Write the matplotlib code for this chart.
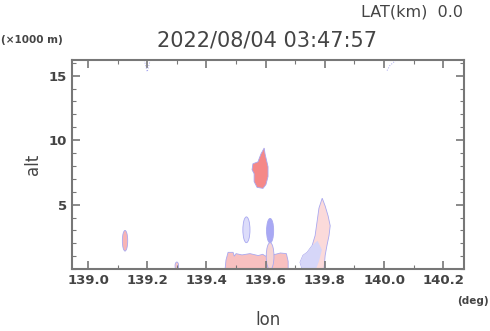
import matplotlib.pyplot as plt
from matplotlib.patches import Ellipse
from matplotlib.ticker import MultipleLocator

# echo patches (lon deg, alt km)
red_top_lon = [139.595, 139.598, 139.608, 139.608, 139.601, 139.591, 139.571,
               139.561, 139.561, 139.554, 139.557, 139.574, 139.584]
red_top_alt = [9.39, 8.93, 7.94, 7.18, 6.56, 6.26, 6.34, 6.79, 7.40, 7.71,
               8.17, 8.32, 8.93]

band_lon = [139.463, 139.466, 139.473, 139.490, 139.494, 139.500, 139.520,
            139.547, 139.575, 139.590, 139.600, 139.618, 139.625, 139.650,
            139.670, 139.676, 139.676]
band_alt = [0.0, 0.7, 1.3, 1.3, 1.0, 1.2, 1.1, 1.2, 1.05, 1.15, 1.0,
            1.3, 1.1, 1.25, 1.2, 0.6, 0.0]

right_lon = [139.797, 139.801, 139.807, 139.814, 139.818, 139.811, 139.801,
             139.791, 139.780, 139.774, 139.767, 139.757, 139.740, 139.726,
             139.716, 139.723]
right_alt = [0.0, 1.07, 1.83, 2.60, 3.36, 4.12, 4.89, 5.50, 4.73, 3.74,
             2.60, 1.83, 1.30, 1.07, 0.53, 0.0]

right_blue_lon = [139.723, 139.716, 139.726, 139.740, 139.757, 139.775,
                  139.790, 139.780, 139.770]
right_blue_alt = [0.0, 0.53, 1.07, 1.30, 1.83, 2.2, 1.5, 0.6, 0.0]

# small blobs: lon, alt, width (deg), height (km), fill colour
blob_lon = [139.535, 139.615, 139.125, 139.300, 139.615]
blob_alt = [3.05, 2.98, 2.20, 0.25, 1.0]
blob_w = [0.024, 0.024, 0.018, 0.012, 0.026]
blob_h = [2.0, 1.9, 1.6, 0.6, 2.1]
blob_col = ['#dcdcfa', '#a8a8f4', '#f8b4b4', '#f8c8c8', '#f6d4d4']

xticks = [139.0, 139.2, 139.4, 139.6, 139.8, 140.0, 140.2]
yticks = [5, 10, 15]

grey = '#444444'
edge = '#a8a8f0'

fig = plt.figure(figsize=(4.9, 3.31), dpi=100)
ax = fig.add_axes([0.147, 0.187, 0.8, 0.631])

ax.fill(band_lon, band_alt, color='#f8c0c0', ec=edge, lw=0.6)
ax.fill(right_lon, right_alt, color='#fbdada', ec=edge, lw=0.6)
ax.fill(right_blue_lon, right_blue_alt, color='#d6d6f8', ec='none')
for i in range(len(blob_lon)):
    ax.add_patch(Ellipse((blob_lon[i], blob_alt[i]), blob_w[i], blob_h[i],
                         fc=blob_col[i], ec=edge, lw=0.6))
ax.fill(red_top_lon, red_top_alt, color='#f58888', ec=edge, lw=0.6)

# faint outlines at the top of the domain
ax.plot([139.19, 139.20, 139.21], [16.2, 15.3, 16.2], color=edge, lw=0.7, ls=':')
ax.plot([140.01, 140.02, 140.04], [15.4, 15.8, 16.2], color=edge, lw=0.7, ls=':')

ax.set_xlim(138.946, 140.27)
ax.set_ylim(0, 16.2)
ax.set_xticks(xticks)
ax.set_xticklabels(['%.1f' % v for v in xticks])
ax.set_yticks(yticks)
ax.xaxis.set_minor_locator(MultipleLocator(0.1))
ax.yaxis.set_minor_locator(MultipleLocator(1))
ax.tick_params(which='both', direction='in', top=True, right=True,
               color='#777777', labelcolor=grey)
ax.tick_params(which='major', length=6, width=1.2)
ax.tick_params(which='minor', length=3, width=0.8)
for lab in ax.get_xticklabels() + ax.get_yticklabels():
    lab.set_fontsize(9.5)
    lab.set_fontweight('bold')
for s in ax.spines.values():
    s.set_color('#777777')
    s.set_linewidth(1.5)

ax.set_xlabel('lon', fontsize=12, color=grey, labelpad=17)
ax.set_ylabel('alt', fontsize=12, color=grey, labelpad=5)

fig.text(0.945, 0.965, 'LAT(km)  0.0', fontsize=11.5, color=grey,
         ha='right', va='center')
fig.text(0.545, 0.878, '2022/08/04 03:47:57', fontsize=15, color=grey,
         ha='center', va='center')
fig.text(0.003, 0.878, '(×1000 m)', fontsize=7.5, color=grey,
         fontweight='bold', ha='left', va='center')
fig.text(0.998, 0.092, '(deg)', fontsize=7.5, color=grey,
         fontweight='bold', ha='right', va='center')

fig.savefig('out.png', dpi=100)
